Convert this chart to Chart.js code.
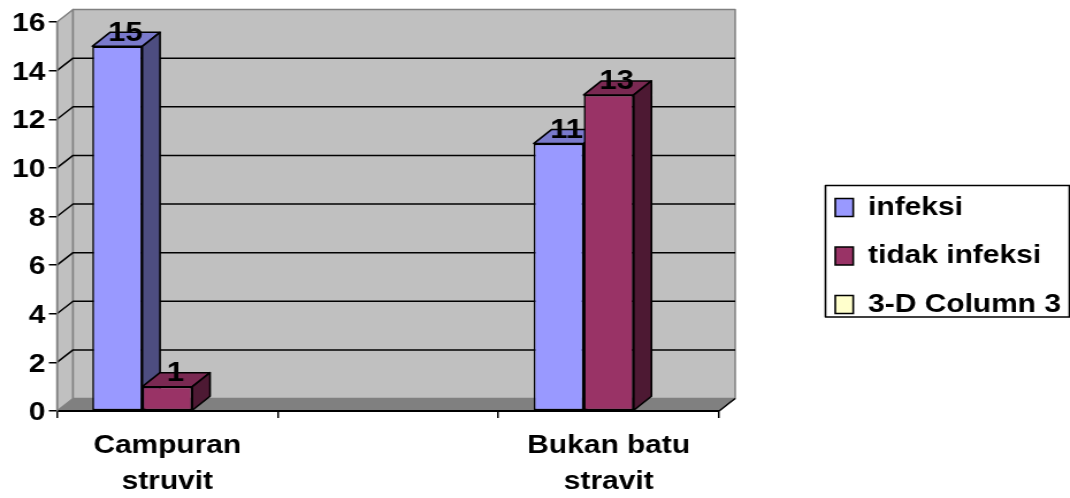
<!DOCTYPE html>
<html>
<head>
<meta charset="utf-8">
<title>Infeksi per jenis batu</title>
<script src="https://cdn.jsdelivr.net/npm/chart.js@4"></script>
<style>
html, body { margin: 0; padding: 0; background: #fff; overflow: hidden; }
#wrap { width: 930px; height: 498px; transform: scaleX(1.1505); transform-origin: 0 0; }
canvas { display: block; }
</style>
</head>
<body>
<div id="wrap"><canvas id="stoneChart" width="930" height="498"></canvas></div>
<script>
const categories = [['Campuran', 'struvit'], '', ['Bukan batu', 'stravit']];
const infeksi = [15, null, 11];
const tidakInfeksi = [1, null, 13];
const column3 = [null, null, null];
const yTicks = [0, 2, 4, 6, 8, 10, 12, 14, 16];

const FONT = { family: '"Liberation Sans", Arial, sans-serif', size: 26, weight: 'bold' };

// depth of the walls and of the bars, in canvas units
const WALL_DX = 14, WALL_DY = 12.5;
const BAR_DX = 15.4, BAR_DY = 14;

const faceColors = [
    { top: '#7a7acc', side: '#4d4d80' },
    { top: '#7a2952', side: '#4d1933' },
    { top: '#cccca3', side: '#808066' }
];

function poly(ctx, pts, fill, stroke, lw) {
    ctx.beginPath();
    pts.forEach((p, i) => i ? ctx.lineTo(p[0], p[1]) : ctx.moveTo(p[0], p[1]));
    ctx.closePath();
    ctx.fillStyle = fill;
    ctx.fill();
    if (stroke) {
        ctx.strokeStyle = stroke;
        ctx.lineWidth = lw;
        ctx.lineJoin = 'round';
        ctx.stroke();
    }
}

const box3d = {
    id: 'box3d',
    beforeUpdate(chart) {
        // keep the legend column wide so the plot stops where it should
        const lg = chart.legend;
        if (lg && !lg.wideFit) {
            const fit = lg.fit;
            lg.wideFit = true;
            lg.fit = function() {
                fit.call(this);
                this.width = 305;
            };
        }
    },
    beforeDraw(chart) {
        const ctx = chart.ctx;
        const { left, right, top, bottom } = chart.chartArea;
        const y = chart.scales.y;
        const edge = '#808080';

        // the digits sit a little low against their tick marks
        if (!y.labelsNudged) {
            y.labelsNudged = true;
            y.getLabelItems(chart.chartArea).forEach(item => { item.options.translation[1] += 2; });
        }

        // legend frame and its placement
        const lg = chart.legend;
        lg.left = 703.5; lg.right = 930; lg.top = 172; lg.bottom = 340;

        poly(ctx, [[717.5, 185.5], [929.5, 185.5], [929.5, 317], [717.5, 317]], '#fff', '#000', 1.6);

        // side wall, back wall, floor
        poly(ctx, [[left, top], [left + WALL_DX, top - WALL_DY], [left + WALL_DX, bottom - WALL_DY], [left, bottom]], '#c0c0c0', edge, 1.5);
        poly(ctx, [[left + WALL_DX, top - WALL_DY], [right + WALL_DX, top - WALL_DY], [right + WALL_DX, bottom - WALL_DY], [left + WALL_DX, bottom - WALL_DY]], '#c0c0c0', edge, 1.5);
        poly(ctx, [[left, bottom], [right, bottom], [right + WALL_DX, bottom - WALL_DY], [left + WALL_DX, bottom - WALL_DY]], '#808080');

        // grid lines run along the side wall and then the back wall
        ctx.strokeStyle = '#000';
        ctx.lineWidth = 1.5;
        yTicks.forEach(v => {
            const py = y.getPixelForValue(v);
            if (v > 0 && v < 16) {
                ctx.beginPath();
                ctx.moveTo(left, py);
                ctx.lineTo(left + WALL_DX, py - WALL_DY);
                ctx.lineTo(right + WALL_DX, py - WALL_DY);
                ctx.stroke();
            }
        });
        ctx.beginPath();
        ctx.moveTo(right, bottom);
        ctx.lineTo(right + WALL_DX, bottom - WALL_DY);
        ctx.stroke();
    },
    beforeDatasetsDraw(chart) {
        // top and side faces go under the fronts, which the library draws
        const ctx = chart.ctx;
        chart.data.datasets.forEach((ds, d) => {
            chart.getDatasetMeta(d).data.forEach((bar, i) => {
                if (ds.data[i] === null) return;
                const l = bar.x - bar.width / 2, r = bar.x + bar.width / 2;
                poly(ctx, [[l, bar.y], [l + BAR_DX, bar.y - BAR_DY], [r + BAR_DX, bar.y - BAR_DY], [r, bar.y]], faceColors[d].top, '#000', 1.6);
                poly(ctx, [[r, bar.y], [r + BAR_DX, bar.y - BAR_DY], [r + BAR_DX, bar.base - BAR_DY], [r, bar.base]], faceColors[d].side, '#000', 1.6);
            });
        });
    },
    afterDatasetsDraw(chart) {
        const ctx = chart.ctx;
        ctx.save();
        ctx.font = 'bold 27px ' + FONT.family;
        ctx.fillStyle = '#000';
        ctx.textAlign = 'center';
        ctx.textBaseline = 'middle';
        chart.data.datasets.forEach((ds, d) => {
            chart.getDatasetMeta(d).data.forEach((bar, i) => {
                if (ds.data[i] === null) return;
                ctx.fillText(String(ds.data[i]), bar.x + 7, bar.y - 13);
            });
        });
        ctx.restore();
    }
};

function makeSeries(label, data, color) {
    return {
        label: label,
        data: data,
        backgroundColor: color,
        borderColor: '#000',
        borderWidth: 1.6,
        borderSkipped: false,
        categoryPercentage: 0.68,
        barPercentage: 1
    };
}

new Chart(document.getElementById('stoneChart').getContext('2d'), {
    type: 'bar',
    data: {
        labels: categories,
        datasets: [
            makeSeries('infeksi', infeksi, '#9999ff'),
            makeSeries('tidak infeksi', tidakInfeksi, '#993366'),
            makeSeries('3-D Column 3', column3, '#ffffcc')
        ]
    },
    plugins: [box3d],
    options: {
        responsive: false,
        animation: false,
        devicePixelRatio: 1,
        layout: { padding: { top: 22, left: 0, right: 0, bottom: 0 } },
        plugins: {
            tooltip: { enabled: false },
            title: { display: false },
            legend: {
                position: 'right',
                align: 'start',
                labels: {
                    color: '#000',
                    font: FONT,
                    boxWidth: 15.6,
                    boxHeight: 18,
                    padding: 22.5
                }
            }
        },
        scales: {
            x: {
                afterFit(scale) { scale.height = 87; },
                grid: { drawOnChartArea: false, drawTicks: true, tickLength: 7, color: '#000', lineWidth: 1.5 },
                border: { color: '#000', width: 2 },
                ticks: {
                    color: '#000',
                    font: Object.assign({ lineHeight: 1.38 }, FONT),
                    padding: 10,
                    autoSkip: false,
                    maxRotation: 0
                }
            },
            y: {
                min: 0,
                max: 16,
                afterFit(scale) { scale.width = 49.5; },
                grid: { drawOnChartArea: false, drawTicks: true, tickLength: 7, color: '#000', lineWidth: 1.5 },
                border: { color: '#808080', width: 1.5 },
                ticks: {
                    color: '#000',
                    font: FONT,
                    padding: 3,
                    stepSize: 2
                }
            }
        }
    }
});
</script>
</body>
</html>
